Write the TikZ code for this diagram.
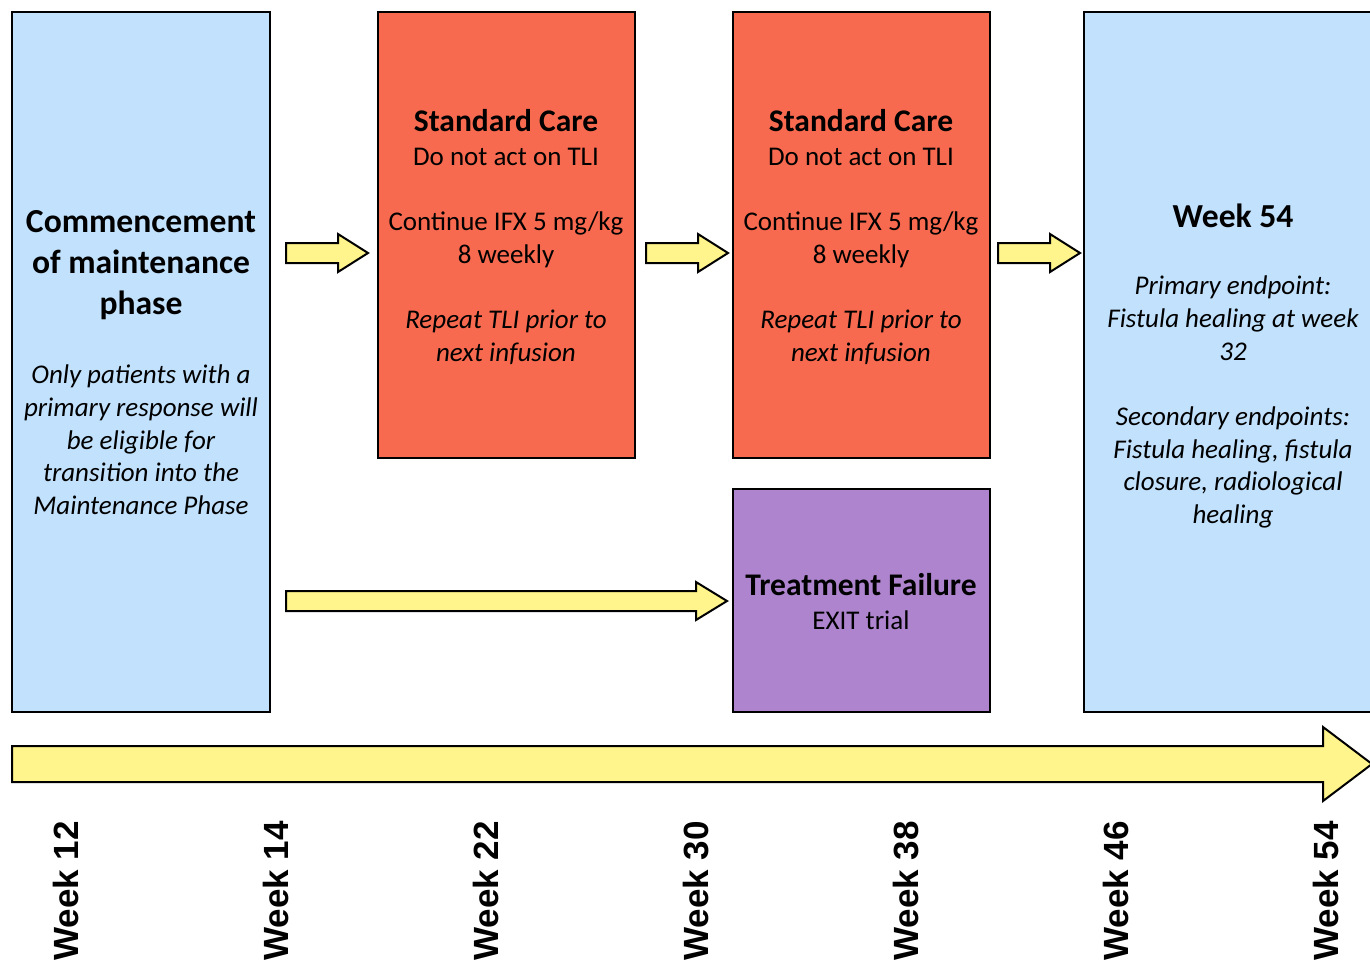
\documentclass[tikz,border=0pt]{standalone}
\usepackage{fontspec}
\setmainfont{Carlito}
\newfontfamily\weekfont{Liberation Sans}
\definecolor{blueF}{RGB}{193,225,252}
\definecolor{redF}{RGB}{248,106,79}
\definecolor{purpleF}{RGB}{174,132,206}
\definecolor{yellowF}{RGB}{255,245,140}
\begin{document}
\begin{tikzpicture}[x=1pt,y=-1pt,
  box/.style={draw=black,line width=1.6pt},
  blockarrow/.style={draw=black,fill=yellowF,line width=2pt,line join=miter},
  ttl/.style={font=\fontsize{31.5}{38}\selectfont\bfseries,align=center,inner sep=0pt},
  bigttl/.style={font=\fontsize{33.6}{41}\selectfont\bfseries,align=center,inner sep=0pt},
  body/.style={font=\fontsize{27}{32.7}\selectfont,align=center,inner sep=0pt},
  wk/.style={font=\fontsize{35}{40}\selectfont\weekfont\bfseries,rotate=90,anchor=east,inner sep=0pt}]
\useasboundingbox (0,0) rectangle (1370,962);
% boxes
\draw[box,fill=blueF] (12,12) rectangle (270,712);
\draw[box,fill=redF] (378,12) rectangle (635,458);
\draw[box,fill=redF] (733,12) rectangle (990,458);
\draw[box,fill=purpleF] (733,489) rectangle (990,712);
\draw[box,fill=blueF] (1084,12) rectangle (1390,712);
% left box text
\node[bigttl] (lt) at (141,265) {Commencement\\of maintenance\\phase};
\node[body] (lb) at (141,440) {\itshape Only patients with a\\\itshape primary response will\\\itshape be eligible for\\\itshape transition into the\\\itshape Maintenance Phase};
% red boxes
\node[ttl] (r1t) at (506,121) {Standard Care};
\node[body] (r1b) at (506,256.5) {Do not act on TLI\\[32.7pt]Continue IFX 5 mg/kg\\8 weekly\\[32.7pt]\itshape Repeat TLI prior to\\\itshape next infusion};
\node[ttl] (r2t) at (861,121) {Standard Care};
\node[body] (r2b) at (861,256.5) {Do not act on TLI\\[32.7pt]Continue IFX 5 mg/kg\\8 weekly\\[32.7pt]\itshape Repeat TLI prior to\\\itshape next infusion};
% purple
\node[ttl] (pt) at (861,585) {Treatment Failure};
\node[body] (pb) at (861,620) {EXIT trial};
% right box
\node[bigttl] (wt) at (1233,216) {Week 54};
\node[body] (wb) at (1233,402) {\itshape Primary endpoint:\\\itshape Fistula healing at week\\\itshape 32\\[32.7pt]\itshape Secondary endpoints:\\\itshape Fistula healing, fistula\\\itshape closure, radiological\\\itshape healing};
% small arrows
\foreach \dx/\nm in {0/a1,360/a2,712/a3}{
  \draw[blockarrow] (286+\dx,243) -- (338+\dx,243) -- (338+\dx,234) -- (368+\dx,253) -- (338+\dx,272) -- (338+\dx,263) -- (286+\dx,263) -- cycle;
}
% long arrow
\draw[blockarrow] (286,591) -- (696,591) -- (696,582) -- (727,601) -- (696,620) -- (696,611) -- (286,611) -- cycle;
% timeline
\draw[blockarrow] (12,746) -- (1323,746) -- (1323,727) -- (1372,764) -- (1323,801) -- (1323,782) -- (12,782) -- cycle;
% week labels
\node[wk] (w12) at (66,821) {Week 12};
\node[wk] (w14) at (276,821) {Week 14};
\node[wk] (w22) at (486,821) {Week 22};
\node[wk] (w30) at (696,821) {Week 30};
\node[wk] (w38) at (906,821) {Week 38};
\node[wk] (w46) at (1116,821) {Week 46};
\node[wk] (w54) at (1326,821) {Week 54};
\end{tikzpicture}
\end{document}
